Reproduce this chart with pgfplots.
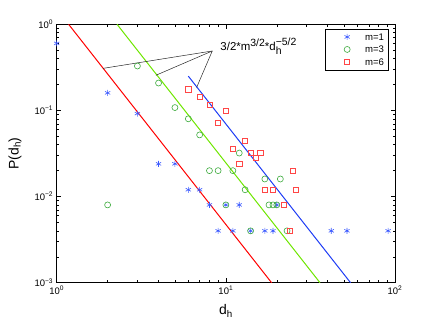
\documentclass[border=0pt]{standalone}
\usepackage{pgfplots}
\pgfplotsset{compat=1.18}
\usepackage{amsmath}
\usepackage{fontspec}
\setmainfont{Liberation Sans}

\definecolor{mOne}{RGB}{60,90,255}
\definecolor{mThree}{RGB}{60,170,60}
\definecolor{mSix}{RGB}{255,70,70}
\definecolor{fitRed}{RGB}{255,0,0}
\definecolor{fitGreen}{RGB}{110,230,0}
\definecolor{fitBlue}{RGB}{30,60,245}

% wide matlab-style legend sample: mark sits in the middle of an 36bp slot
\pgfplotsset{wideleg/.style={legend image code/.code={%
    \path[draw=none, fill=none] (0bp,-3bp) rectangle (36bp,3bp);
    \draw[#1] plot coordinates {(18bp,0bp)};}}}

\begin{document}
\begin{tikzpicture}
\begin{axis}[
    scale only axis,
    width=338.3bp, height=258.4bp,
    xmode=log, ymode=log,
    xmin=1, xmax=100, ymin=1e-3, ymax=1,
    xtick={1,10,100},
    xticklabels={10\textsuperscript{0},10\textsuperscript{1},10\textsuperscript{2}},
    ytick={0.001,0.01,0.1,1},
    yticklabels={10\textsuperscript{−3},10\textsuperscript{−2},10\textsuperscript{−1},10\textsuperscript{0}},
    minor xtick={2,3,4,5,6,7,8,9,20,30,40,50,60,70,80,90},
    minor ytick={0.002,0.003,0.004,0.005,0.006,0.007,0.008,0.009,0.02,0.03,0.04,0.05,0.06,0.07,0.08,0.09,0.2,0.3,0.4,0.5,0.6,0.7,0.8,0.9},
    tick align=inside,
    major tick length=4.5bp, minor tick length=2.5bp,
    tick label style={font=\fontsize{9.5}{10}\selectfont},
    axis line style={line width=0.6bp},
    every tick/.style={black, line width=0.5bp},
    xlabel={d$_{\text{h}}$},
    ylabel={P(d$_{\text{h}}$)},
    label style={font=\fontsize{14}{16}\selectfont},
    xlabel style={at={(axis description cs:0.5,-0.072)}, anchor=north},
    ylabel style={at={(axis description cs:-0.1233,0.5)}, anchor=center},
    legend style={at={(1,1)}, anchor=north east, xshift=-6.7bp, yshift=-4.4bp,
        font=\fontsize{9.6}{10}\selectfont, draw=black, line width=0.5bp,
        inner xsep=4bp, inner ysep=4.5bp, row sep=5.5bp,
        nodes={inner sep=0pt, text height=7bp, text depth=0bp}},
    legend cell align=left,
    /tikz/every even column/.append style={column sep=1bp},
]
% fitted power laws 3/2*m^{3/2}*d^{-5/2}, endpoints only (straight on log-log)
\addplot[fitRed, line width=1bp, forget plot] coordinates {(1.1761,1) (18.64,0.001)};
\addplot[fitGreen, line width=1bp, forget plot] coordinates {(2.2735,1) (36.03,0.001)};
\addplot[fitBlue, line width=1bp, forget plot] coordinates {(6,0.25) (54.62,0.001)};

% m=1
\addplot[only marks, mOne, mark=asterisk, mark size=3bp, line width=0.6bp, wideleg] coordinates {
    (1,0.6) (2,0.16) (3,0.092) (4,0.024) (5,0.024) (6,0.012) (7,0.012)
    (8,0.008) (10,0.008) (12,0.008) (20,0.008)
    (9,0.004) (11,0.004) (14,0.004) (17,0.004) (19,0.004) (42,0.004) (52,0.004) (91,0.004)};
\addlegendentry{m=1}
% m=3
\addplot[only marks, mThree, mark=o, mark size=3bp, line width=0.6bp, wideleg] coordinates {
    (2,0.008) (3,0.328) (4,0.208) (5,0.108) (6,0.08) (7,0.052)
    (8,0.02) (9,0.02) (11,0.02) (12,0.032) (13,0.012) (17,0.016) (21,0.016)
    (10,0.008) (18,0.008) (19,0.008) (20,0.008) (14,0.004) (23,0.004)};
\addlegendentry{m=3}
% m=6
\addplot[only marks, mSix, mark=square, mark size=2.6bp, line width=0.6bp, wideleg] coordinates {
    (6,0.176) (7,0.144) (8,0.116) (9,0.072) (10,0.1) (11,0.036) (12,0.024)
    (13,0.044) (14,0.032) (15,0.028) (16,0.032) (17,0.012) (19,0.012)
    (22,0.008) (24,0.004) (25,0.02) (26,0.012)};
\addlegendentry{m=6}

% annotation pointing at the three lines
\draw[black!85, line width=0.5bp] (axis cs:8.31,0.49) -- (axis cs:1.88,0.308);
\draw[black!85, line width=0.5bp] (axis cs:8.31,0.49) -- (axis cs:3.86,0.256);
\draw[black!85, line width=0.5bp] (axis cs:8.31,0.49) -- (axis cs:6.72,0.185);
\node[anchor=base west, inner sep=0pt, xshift=8bp, font=\fontsize{11.5}{12}\selectfont]
    at (axis cs:8.31,0.49) {3/2*m\raisebox{4.5bp}{\fontsize{10.5}{11}\selectfont 3/2}*d\raisebox{-3.5bp}{\fontsize{10.5}{11}\selectfont h}\hspace{-5.8bp}\raisebox{5bp}{\fontsize{10.5}{11}\selectfont −5/2}};
\end{axis}
\pgfresetboundingbox
\path[use as bounding box] (-56.7bp,-44.3bp) rectangle (379.3bp,282.7bp);
\end{tikzpicture}
\end{document}
